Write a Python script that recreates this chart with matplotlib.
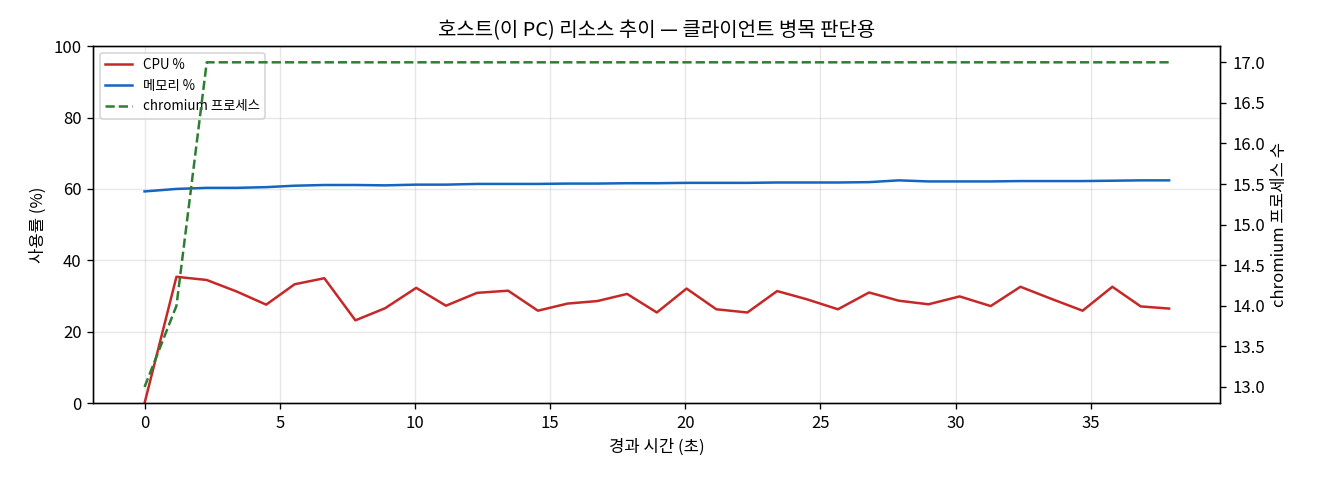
import matplotlib
matplotlib.use('Agg')
import matplotlib.pyplot as plt

plt.rcParams['font.family'] = ['Noto Sans CJK KR', 'DejaVu Sans']
plt.rcParams['axes.unicode_minus'] = False

# elapsed seconds for each sample
elapsed = [0.0, 1.18, 2.3, 3.4, 4.5, 5.55, 6.65, 7.8, 8.9, 10.05,
           11.15, 12.3, 13.45, 14.55, 15.65, 16.75, 17.85, 18.95, 20.05, 21.15,
           22.3, 23.4, 24.5, 25.65, 26.8, 27.9, 29.0, 30.15, 31.3, 32.4,
           33.55, 34.7, 35.8, 36.85, 37.9]

cpu = [0.0, 35.4, 34.5, 31.3, 27.6, 33.3, 35.0, 23.2, 26.6, 32.3,
       27.3, 30.9, 31.5, 25.9, 27.9, 28.6, 30.6, 25.4, 32.1, 26.3,
       25.4, 31.4, 29.1, 26.3, 31.0, 28.7, 27.7, 29.9, 27.2, 32.6,
       29.2, 25.9, 32.6, 27.1, 26.5]

mem = [59.3, 60.0, 60.3, 60.3, 60.5, 60.9, 61.1, 61.1, 61.0, 61.2,
       61.2, 61.4, 61.4, 61.4, 61.5, 61.5, 61.6, 61.6, 61.7, 61.7,
       61.7, 61.8, 61.8, 61.8, 61.9, 62.4, 62.1, 62.1, 62.1, 62.2,
       62.2, 62.2, 62.3, 62.4, 62.4]

chromium = [13, 14, 17, 17, 17, 17, 17, 17, 17, 17,
            17, 17, 17, 17, 17, 17, 17, 17, 17, 17,
            17, 17, 17, 17, 17, 17, 17, 17, 17, 17,
            17, 17, 17, 17, 17]

fig, ax = plt.subplots(figsize=(11, 4), dpi=120)

l1, = ax.plot(elapsed, cpu, color='#c62828', linewidth=1.5, label='CPU %')
l2, = ax.plot(elapsed, mem, color='#1565c0', linewidth=1.5, label='메모리 %')
ax.set_ylim(0, 100)
ax.set_xlabel('경과 시간 (초)')
ax.set_ylabel('사용률 (%)')
ax.grid(True, alpha=0.3)

ax2 = ax.twinx()
l3, = ax2.plot(elapsed, chromium, color='#2e7d32', linewidth=1.5, linestyle='--', label='chromium 프로세스')
ax2.set_ylabel('chromium 프로세스 수')

ax.legend(handles=[l1, l2, l3], loc='upper left', fontsize=8)
ax.set_title('호스트(이 PC) 리소스 추이 — 클라이언트 병목 판단용')

fig.subplots_adjust(left=0.0707, right=0.9245, top=0.904, bottom=0.160)
fig.savefig('out.png')
